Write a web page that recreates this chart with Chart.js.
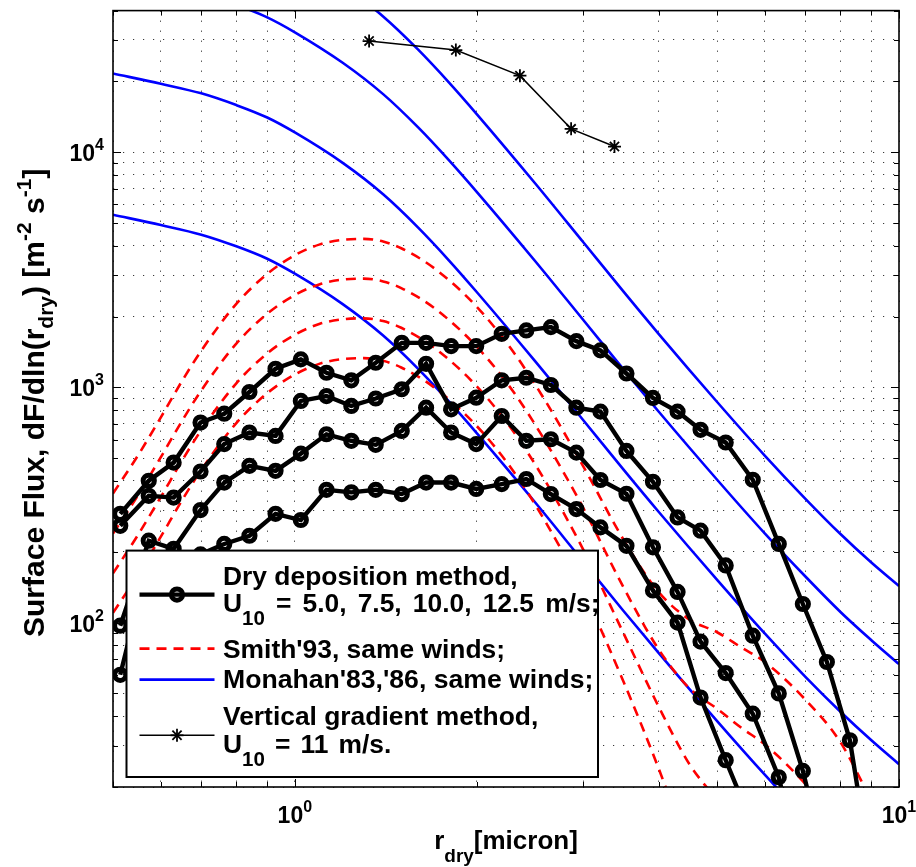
<!DOCTYPE html>
<html>
<head>
<meta charset="utf-8">
<script src="https://cdn.jsdelivr.net/npm/chart.js@4.4.1/dist/chart.umd.min.js"></script>
<style>
  html, body { margin: 0; padding: 0; background: #fff; }
  #wrap { width: 916px; height: 867px; }
</style>
</head>
<body>
<div id="wrap"><canvas id="flux" width="916" height="867"></canvas></div>
<script>
// Dry radius bins (micron) of the dry deposition estimates
const rDry = [0.514, 0.573, 0.630, 0.698, 0.764, 0.841, 0.929, 1.023, 1.128, 1.240,
              1.361, 1.503, 1.649, 1.814, 1.996, 2.200, 2.416, 2.653, 2.924, 3.205,
              3.539, 3.915, 4.300, 4.694, 5.166, 5.727, 6.324, 6.932, 7.597, 8.293, 9.11];

// Dry deposition method, one series per wind speed (m^-2 s^-1)
const dryDep125 = [290, 401, 479, 709, 773, 956, 1200, 1316, 1154, 1072, 1273, 1547, 1547, 1498, 1498,
                   1690, 1747, 1804, 1573, 1437, 1146, 902, 789, 660, 583, 405, 216, 120, 68, 31.6, 7];
const dryDep100 = [258, 346, 340, 439, 574, 643, 622, 876, 919, 834, 897, 982, 1260, 807, 904,
                   1072, 1099, 1024, 820, 789, 537, 397, 280, 246, 175, 88, 50, 23.4, 9];
const dryDep75  = [97, 223, 206, 301, 394, 464, 442, 523, 632, 593, 570, 653, 820, 643, 574,
                   756, 593, 602, 528, 404, 353, 209, 135, 83, 61, 41, 22, 8];
const dryDep50  = [60, 185, 175, 195, 216, 234, 290, 273, 367, 358, 367, 352, 394, 394, 370,
                   388, 408, 352, 304, 254, 212, 137, 100, 48, 26, 13.7];

// Smith '93 source function, same winds
const smithR   = [0.5, 0.55, 0.6, 0.65, 0.7, 0.8, 0.9, 1.0, 1.1, 1.2, 1.3, 1.4, 1.5, 1.7, 2.0,
                  2.3, 2.6, 3.0, 3.5, 4.0, 4.5, 5.0, 5.5, 6, 7, 8, 9];
const smith125 = [354, 514, 746, 1061, 1433, 2266, 3037, 3648, 4056, 4242, 4281, 4169, 3905, 3214, 2202,
                  1414, 873, 463, 225, 135, 103, 91, 78, 68, 47, 31, 17.5];
const smith100 = [239, 348, 505, 718, 971, 1535, 2057, 2471, 2747, 2874, 2900, 2823, 2645, 2177, 1491,
                  958, 588, 308, 141, 77, 52.5, 43, 35.5, 30.3, 20.6, 13.6];
const smith75  = [162, 236, 342, 487, 658, 1041, 1395, 1675, 1863, 1948, 1966, 1914, 1793, 1476, 1011,
                  649, 398, 205, 90, 44, 25, 17.6];
const smith50  = [110, 160, 232, 330, 446, 705, 945, 1135, 1262, 1320, 1332, 1297, 1215, 1000, 685,
                  440, 268, 136, 56, 24, 10.5];

// Monahan '83, '86 source function, same winds
const monR   = [0.5, 0.6, 0.7, 0.8, 0.9, 1.0, 1.2, 1.4, 1.6, 1.8, 2.0, 2.5, 3.0, 3.5, 4.0,
                5, 6, 7, 8, 9, 10];
const mon50  = [5421, 4901, 4462, 3980, 3523, 3043, 2259, 1661, 1199, 869, 639, 324, 182, 112, 74.3,
                38.1, 22.5, 14.75];
const mon75  = [21610, 19540, 17790, 15860, 14040, 12130, 9004, 6621, 4779, 3463, 2545, 1290, 727, 447, 296,
                152, 89.7, 58.8, 41.8, 31.6, 25.0];
const mon100 = [null, null, 47430, 42310, 37450, 32350, 24010, 17660, 12750, 9235, 6788, 3440, 1939, 1193, 790,
                405, 239, 157, 111, 84.2, 66.6];
const mon125 = [null, null, null, null, null, null, 51390, 37790, 27280, 19770, 14530, 7362, 4150, 2553, 1690,
                867, 512, 336, 238, 180, 143];

// Vertical gradient method, U10 = 11 m/s
const gradR    = [1.327, 1.847, 2.358, 2.866, 3.381];
const gradFlux = [29690, 27190, 21160, 12570, 10570];

// Axis ticks
const xTicks = [0.5, 0.6, 0.7, 0.8, 0.9, 1, 2, 3, 4, 5, 6, 7, 8, 9, 10];
const yTicks = [20, 30, 40, 50, 60, 70, 80, 90, 100, 200, 300, 400, 500, 600, 700, 800, 900,
                1000, 2000, 3000, 4000, 5000, 6000, 7000, 8000, 9000, 10000, 20000, 30000, 40000];
const xMajor = [1, 10];
const yMajor = [100, 1000, 10000];

const FONT = "'Liberation Sans', Arial, Helvetica, sans-serif";

function pairs(xs, ys) {
  const out = [];
  ys.forEach((v, i) => { if (v !== null) out.push({ x: xs[i], y: v }); });
  return out;
}

function dryDataset(label, ys) {
  return {
    label, data: pairs(rDry, ys),
    borderColor: '#000', borderWidth: 4.4, tension: 0,
    pointStyle: 'circle', pointRadius: 5.6, pointBorderWidth: 5,
    pointBorderColor: '#000', pointBackgroundColor: 'rgba(0,0,0,0)', clip: 0
  };
}
function smithDataset(label, ys) {
  return {
    label, data: pairs(smithR, ys),
    borderColor: '#ff0000', borderWidth: 2.6, borderDash: [10, 7],
    pointRadius: 0, cubicInterpolationMode: 'monotone', clip: 0
  };
}
function monDataset(label, ys) {
  return {
    label, data: pairs(monR, ys),
    borderColor: '#0000ff', borderWidth: 2.6,
    pointRadius: 0, cubicInterpolationMode: 'monotone', clip: 0
  };
}

// Rich text runs: [text, size, baseline shift, extra space width]
function runWidth(ctx, runs) {
  let w = 0;
  runs.forEach(r => {
    ctx.font = `bold ${r[1]}px ${FONT}`;
    const extra = (r[3] || 0) * (r[0].split(' ').length - 1);
    w += ctx.measureText(r[0]).width + extra;
  });
  return w;
}
function drawRuns(ctx, runs, x, y) {
  let cx = x;
  runs.forEach(r => {
    ctx.font = `bold ${r[1]}px ${FONT}`;
    const extra = r[3] || 0;
    if (!extra) {
      ctx.fillText(r[0], cx, y + (r[2] || 0));
      cx += ctx.measureText(r[0]).width;
      return;
    }
    const words = r[0].split(' ');
    const sp = ctx.measureText(' ').width + extra;
    words.forEach((wd, i) => {
      if (wd) { ctx.fillText(wd, cx, y + (r[2] || 0)); cx += ctx.measureText(wd).width; }
      if (i < words.length - 1) cx += sp;
    });
  });
  return cx;
}

const axisDecor = {
  id: 'axisDecor',
  afterDatasetsDraw(chart) {
    const { ctx, chartArea: a, scales: { x, y } } = chart;
    ctx.save();
    ctx.strokeStyle = '#000';
    ctx.lineWidth = 1;
    const seg = (x1, y1, x2, y2) => { ctx.beginPath(); ctx.moveTo(x1, y1); ctx.lineTo(x2, y2); ctx.stroke(); };
    xTicks.forEach(v => {
      const px = Math.round(x.getPixelForValue(v)) + 0.5;
      const len = xMajor.includes(v) ? 8 : 5;
      seg(px, a.bottom, px, a.bottom - len);
      seg(px, a.top, px, a.top + len);
    });
    yTicks.forEach(v => {
      const py = Math.round(y.getPixelForValue(v)) + 0.5;
      const len = yMajor.includes(v) ? 8 : 5;
      seg(a.left, py, a.left + len, py);
      seg(a.right, py, a.right - len, py);
    });
    ctx.lineWidth = 1.6;
    ctx.strokeRect(a.left, a.top, a.right - a.left, a.bottom - a.top);

    // Tick labels as powers of ten
    ctx.fillStyle = '#000';
    ctx.textBaseline = 'alphabetic';
    ctx.textAlign = 'left';
    yMajor.forEach(v => {
      const py = y.getPixelForValue(v);
      const runs = [['10', 23, 9], [String(Math.round(Math.log10(v))), 16, -2]];
      const w = runWidth(ctx, runs);
      drawRuns(ctx, runs, a.left - 9 - w, py);
    });
    xMajor.forEach(v => {
      const px = x.getPixelForValue(v);
      const runs = [['10', 23, 0], [String(Math.round(Math.log10(v))), 16, -11]];
      const w = runWidth(ctx, runs);
      drawRuns(ctx, runs, px - w / 2, a.bottom + 36);
    });

    // Axis titles
    const xt = [['r', 26, 0], ['dry', 19, 13], ['[micron]', 26, 0]];
    const xw = runWidth(ctx, xt);
    drawRuns(ctx, xt, (a.left + a.right) / 2 - xw / 2, a.bottom + 62);

    const yt = [['Surface Flux, dF/dln(r', 30, 0], ['dry', 21, 9], [') [m', 30, 0], ['-2', 21, -13],
                [' s', 30, 0], ['-1', 21, -13], [']', 30, 0]];
    const yw = runWidth(ctx, yt);
    ctx.translate(44, (a.top + a.bottom) / 2 + 4);
    ctx.rotate(-Math.PI / 2);
    drawRuns(ctx, yt, -yw / 2, 0);
    ctx.restore();
  }
};

const legendBox = {
  id: 'legendBox',
  afterDraw(chart) {
    const { ctx, chartArea: a } = chart;
    const L = a.left + 13.5, T = a.top + 540, R = a.left + 485, B = a.bottom - 10;
    ctx.save();
    ctx.fillStyle = '#fff';
    ctx.fillRect(L, T, R - L, B - T);

    const s0 = L + 13, s1 = L + 88, sm = (s0 + s1) / 2, tx = L + 96.5;
    const seg = (yy) => { ctx.beginPath(); ctx.moveTo(s0, yy); ctx.lineTo(s1, yy); ctx.stroke(); };

    // Dry deposition sample
    ctx.strokeStyle = '#000'; ctx.lineWidth = 4.4; ctx.setLineDash([]);
    seg(T + 44);
    ctx.lineWidth = 5;
    ctx.beginPath(); ctx.arc(sm, T + 44, 5.6, 0, Math.PI * 2); ctx.stroke();

    // Smith sample
    ctx.strokeStyle = '#ff0000'; ctx.lineWidth = 2.6; ctx.setLineDash([10, 7]);
    seg(T + 98);
    ctx.setLineDash([]);

    // Monahan sample
    ctx.strokeStyle = '#0000ff'; ctx.lineWidth = 2.6;
    seg(T + 129);

    // Vertical gradient sample
    ctx.strokeStyle = '#000'; ctx.lineWidth = 1.5;
    seg(T + 184.7);
    ctx.lineWidth = 1.8;
    const r = 6.5, cy = T + 184.7;
    for (let k = 0; k < 4; k++) {
      const ang = k * Math.PI / 4;
      ctx.beginPath();
      ctx.moveTo(sm - r * Math.cos(ang), cy - r * Math.sin(ang));
      ctx.lineTo(sm + r * Math.cos(ang), cy + r * Math.sin(ang));
      ctx.stroke();
    }

    // Texts
    ctx.save();
    ctx.fillStyle = '#000';
    ctx.textAlign = 'left';
    ctx.textBaseline = 'alphabetic';
    ctx.beginPath(); ctx.rect(L, T, R - L, B - T); ctx.clip();
    drawRuns(ctx, [['Dry deposition method,', 26.4, 0]], tx, T + 34);
    drawRuns(ctx, [['U', 26.4, 0], ['10', 20.5, 13], [' = 5.0, 7.5, 10.0, 12.5 m/s;', 26.4, 0, 3.8]], tx, T + 61);
    drawRuns(ctx, [["Smith'93, same winds;", 26.4, 0]], tx, T + 107.4);
    drawRuns(ctx, [["Monahan'83,'86, same winds;", 26.6, 0]], tx, T + 137.4);
    drawRuns(ctx, [['Vertical gradient method,', 26.4, 0]], tx, T + 174);
    drawRuns(ctx, [['U', 26.4, 0], ['10', 20.5, 13], [' = 11 m/s.', 26.4, 0, 2.8]], tx, T + 202.4);
    ctx.restore();

    ctx.strokeStyle = '#000';
    ctx.lineWidth = 2;
    ctx.strokeRect(L, T, R - L, B - T);
    ctx.restore();
  }
};

const gridOpts = { color: '#3a3a3a', lineWidth: 1, drawTicks: false };

new Chart(document.getElementById('flux'), {
  type: 'line',
  data: {
    datasets: [
      dryDataset('Dry deposition, U10 = 12.5 m/s', dryDep125),
      dryDataset('Dry deposition, U10 = 10.0 m/s', dryDep100),
      dryDataset('Dry deposition, U10 = 7.5 m/s', dryDep75),
      dryDataset('Dry deposition, U10 = 5.0 m/s', dryDep50),
      {
        label: 'Vertical gradient method, U10 = 11 m/s',
        data: pairs(gradR, gradFlux),
        borderColor: '#000', borderWidth: 1.5, tension: 0,
        pointStyle: 'star', pointRadius: 6.5, pointBorderWidth: 1.8,
        pointBorderColor: '#000', clip: 0
      },
      smithDataset("Smith'93, 12.5 m/s", smith125),
      smithDataset("Smith'93, 10.0 m/s", smith100),
      smithDataset("Smith'93, 7.5 m/s", smith75),
      smithDataset("Smith'93, 5.0 m/s", smith50),
      monDataset("Monahan'83,'86, 12.5 m/s", mon125),
      monDataset("Monahan'83,'86, 10.0 m/s", mon100),
      monDataset("Monahan'83,'86, 7.5 m/s", mon75),
      monDataset("Monahan'83,'86, 5.0 m/s", mon50)
    ]
  },
  options: {
    responsive: false,
    animation: false,
    devicePixelRatio: 1,
    events: [],
    layout: { padding: { left: 113, top: 9, right: 17, bottom: 80 } },
    plugins: { legend: { display: false }, tooltip: { enabled: false } },
    scales: {
      x: {
        type: 'logarithmic', min: 0.5, max: 10,
        afterBuildTicks: s => { s.ticks = xTicks.map(v => ({ value: v, major: xMajor.includes(v) })); },
        ticks: { display: false },
        grid: gridOpts,
        border: { display: false, dash: [1.2, 8.8] }
      },
      y: {
        type: 'logarithmic', min: 20, max: 40000,
        afterBuildTicks: s => { s.ticks = yTicks.map(v => ({ value: v, major: yMajor.includes(v) })); },
        ticks: { display: false },
        grid: gridOpts,
        border: { display: false, dash: [1.2, 8.8] }
      }
    }
  },
  plugins: [axisDecor, legendBox]
});
</script>
</body>
</html>
